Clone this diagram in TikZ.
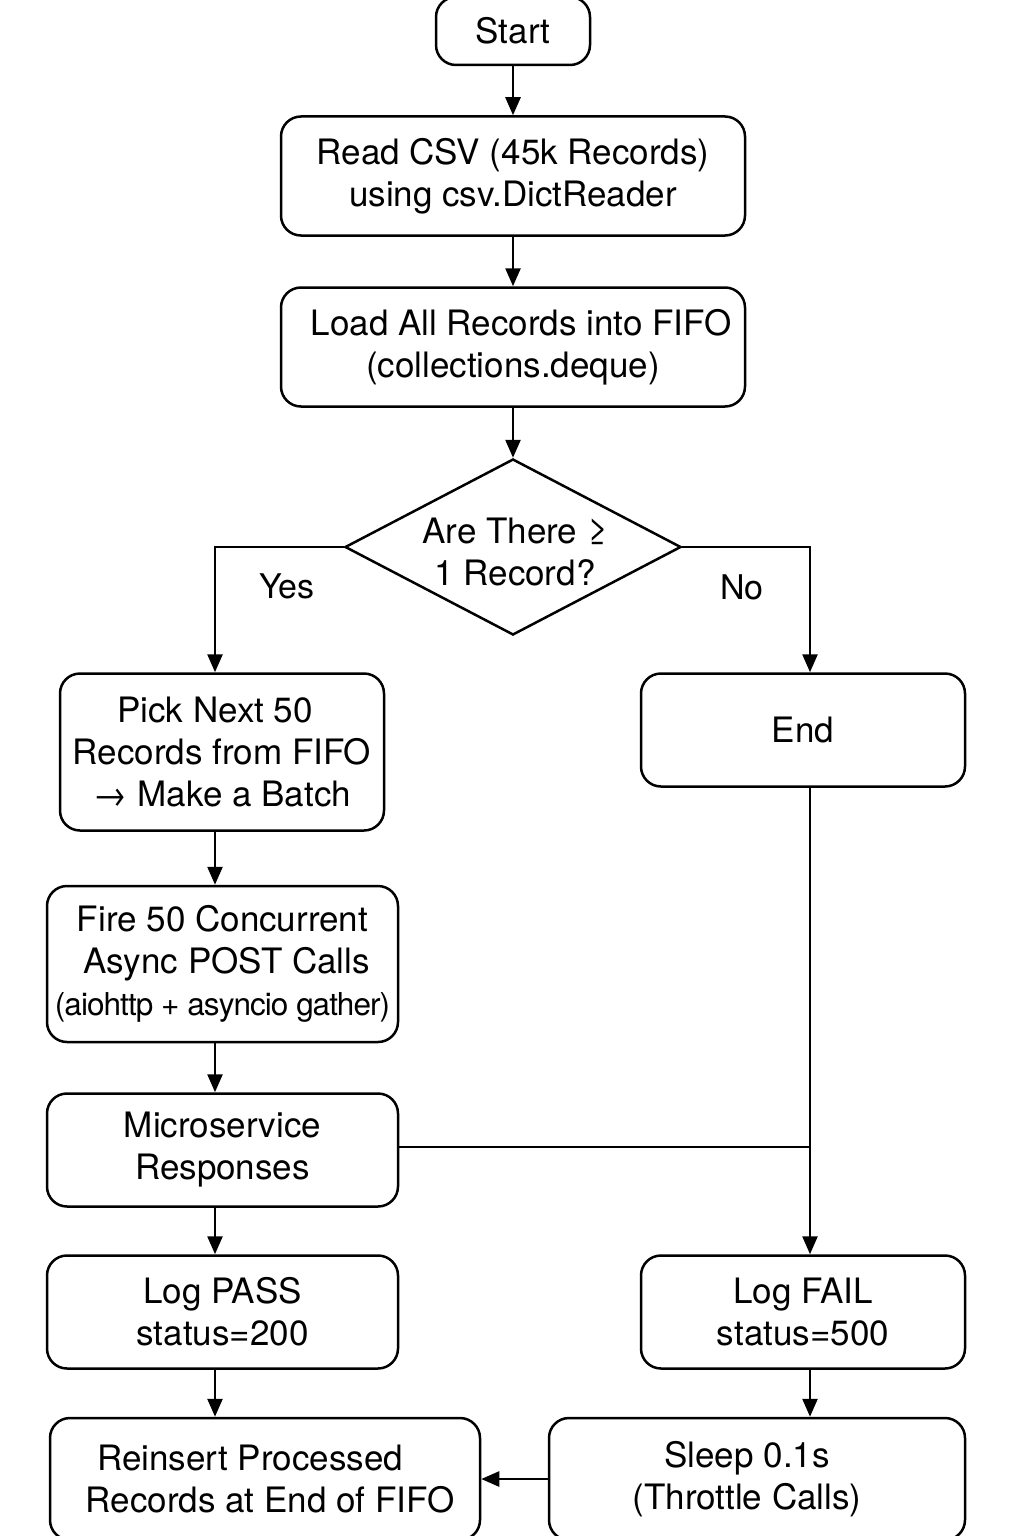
\documentclass[tikz,border=0pt]{standalone}
\usepackage{fontspec}
\setmainfont{TeX Gyre Heros}
\usetikzlibrary{shapes.geometric,arrows.meta}
\begin{document}
\begin{tikzpicture}[x=1pt,y=-1pt,
  every node/.style={font=\fontsize{35}{42}\selectfont},
  box/.style={draw,line width=2.5pt,rounded corners=20pt,inner sep=0pt,align=center},
  dec/.style={draw,line width=2.5pt,diamond,aspect=1.91,inner sep=0pt,minimum width=336pt,minimum height=176pt,align=center},
  conn/.style={line width=2.5pt,-{Triangle[length=18pt,width=15pt]}},
  plain/.style={line width=2.5pt},
  lab/.style={font=\fontsize{34}{40}\selectfont}]
\useasboundingbox (0,0) rectangle (1024,1536);
\clip (0,0) rectangle (1024,1536);
% nodes
\node[box,minimum width=154pt,minimum height=68pt] (start) at (513,31) {Start};
\node[box,minimum width=464pt,minimum height=119pt] (read) at (513,176) {Read CSV (45k Records)\\using csv.DictReader};
\node[box,minimum width=464pt,minimum height=119pt] (load) at (513,347) {\hspace*{16pt}Load All Records into FIFO\\(collections.deque)};
\node[dec] (dec) at (513,547) {};
\node[align=center] (dect) at (515,552) {Are There ≥\\1 Record?};
\node[lab] (yes) at (287,586) {Yes};
\node[lab] (no) at (742,587) {No};
\node[box,minimum width=324pt,minimum height=157pt] (pick) at (222,752) {Pick Next 50\hspace*{14pt}\\Records from FIFO\\→ Make a Batch};
\node[box,minimum width=324pt,minimum height=113pt] (end) at (803,730) {End};
\node[box,minimum width=351pt,minimum height=156pt] (fire) at (222.5,964) {Fire 50 Concurrent\\\hspace*{8pt}Async POST Calls\\{\fontsize{31.5}{42}\selectfont\addfontfeature{LetterSpace=-3}(aiohttp + asyncio gather)}};
\node[box,minimum width=351pt,minimum height=113pt] (micro) at (222.5,1150) {Microservice\\Responses};
\node[box,minimum width=351pt,minimum height=113pt] (pass) at (222.5,1312) {Log PASS\\status=200};
\node[box,minimum width=324pt,minimum height=113pt] (fail) at (803,1312) {Log FAIL\\status=500};
\node[box,minimum width=430pt,minimum height=122pt] (reins) at (265,1479) {Reinsert Processed\hspace*{30pt}\\\hspace*{10pt}Records at End of FIFO};
\node[box,minimum width=416pt,minimum height=122pt] (sleep) at (757,1479) {Sleep 0.1s\hspace*{20pt}\\(Throttle Calls)\hspace*{20pt}};
% column coordinates
\coordinate (cL) at (215,0);
\coordinate (cR) at (810,0);
\coordinate (jn) at (810,1147);
% connectors
\draw[conn] (start) -- (read);
\draw[conn] (read) -- (load);
\draw[conn] (load) -- (dec);
\draw[conn] (dec.west) -| (pick.north -| cL);
\draw[conn] (dec.east) -| (end.north -| cR);
\draw[conn] (pick.south -| cL) -- (fire.north -| cL);
\draw[conn] (fire.south -| cL) -- (micro.north -| cL);
\draw[conn] (micro.south -| cL) -- (pass.north -| cL);
\draw[conn] (pass.south -| cL) -- (reins.north -| cL);
\draw[conn] (end.south -| cR) -- (fail.north -| cR);
\draw[plain] (micro.east |- jn) -- (jn);
\draw[conn] (fail.south -| cR) -- (sleep.north -| cR);
\draw[conn] (sleep.west) -- (reins.east);
\end{tikzpicture}
\end{document}
